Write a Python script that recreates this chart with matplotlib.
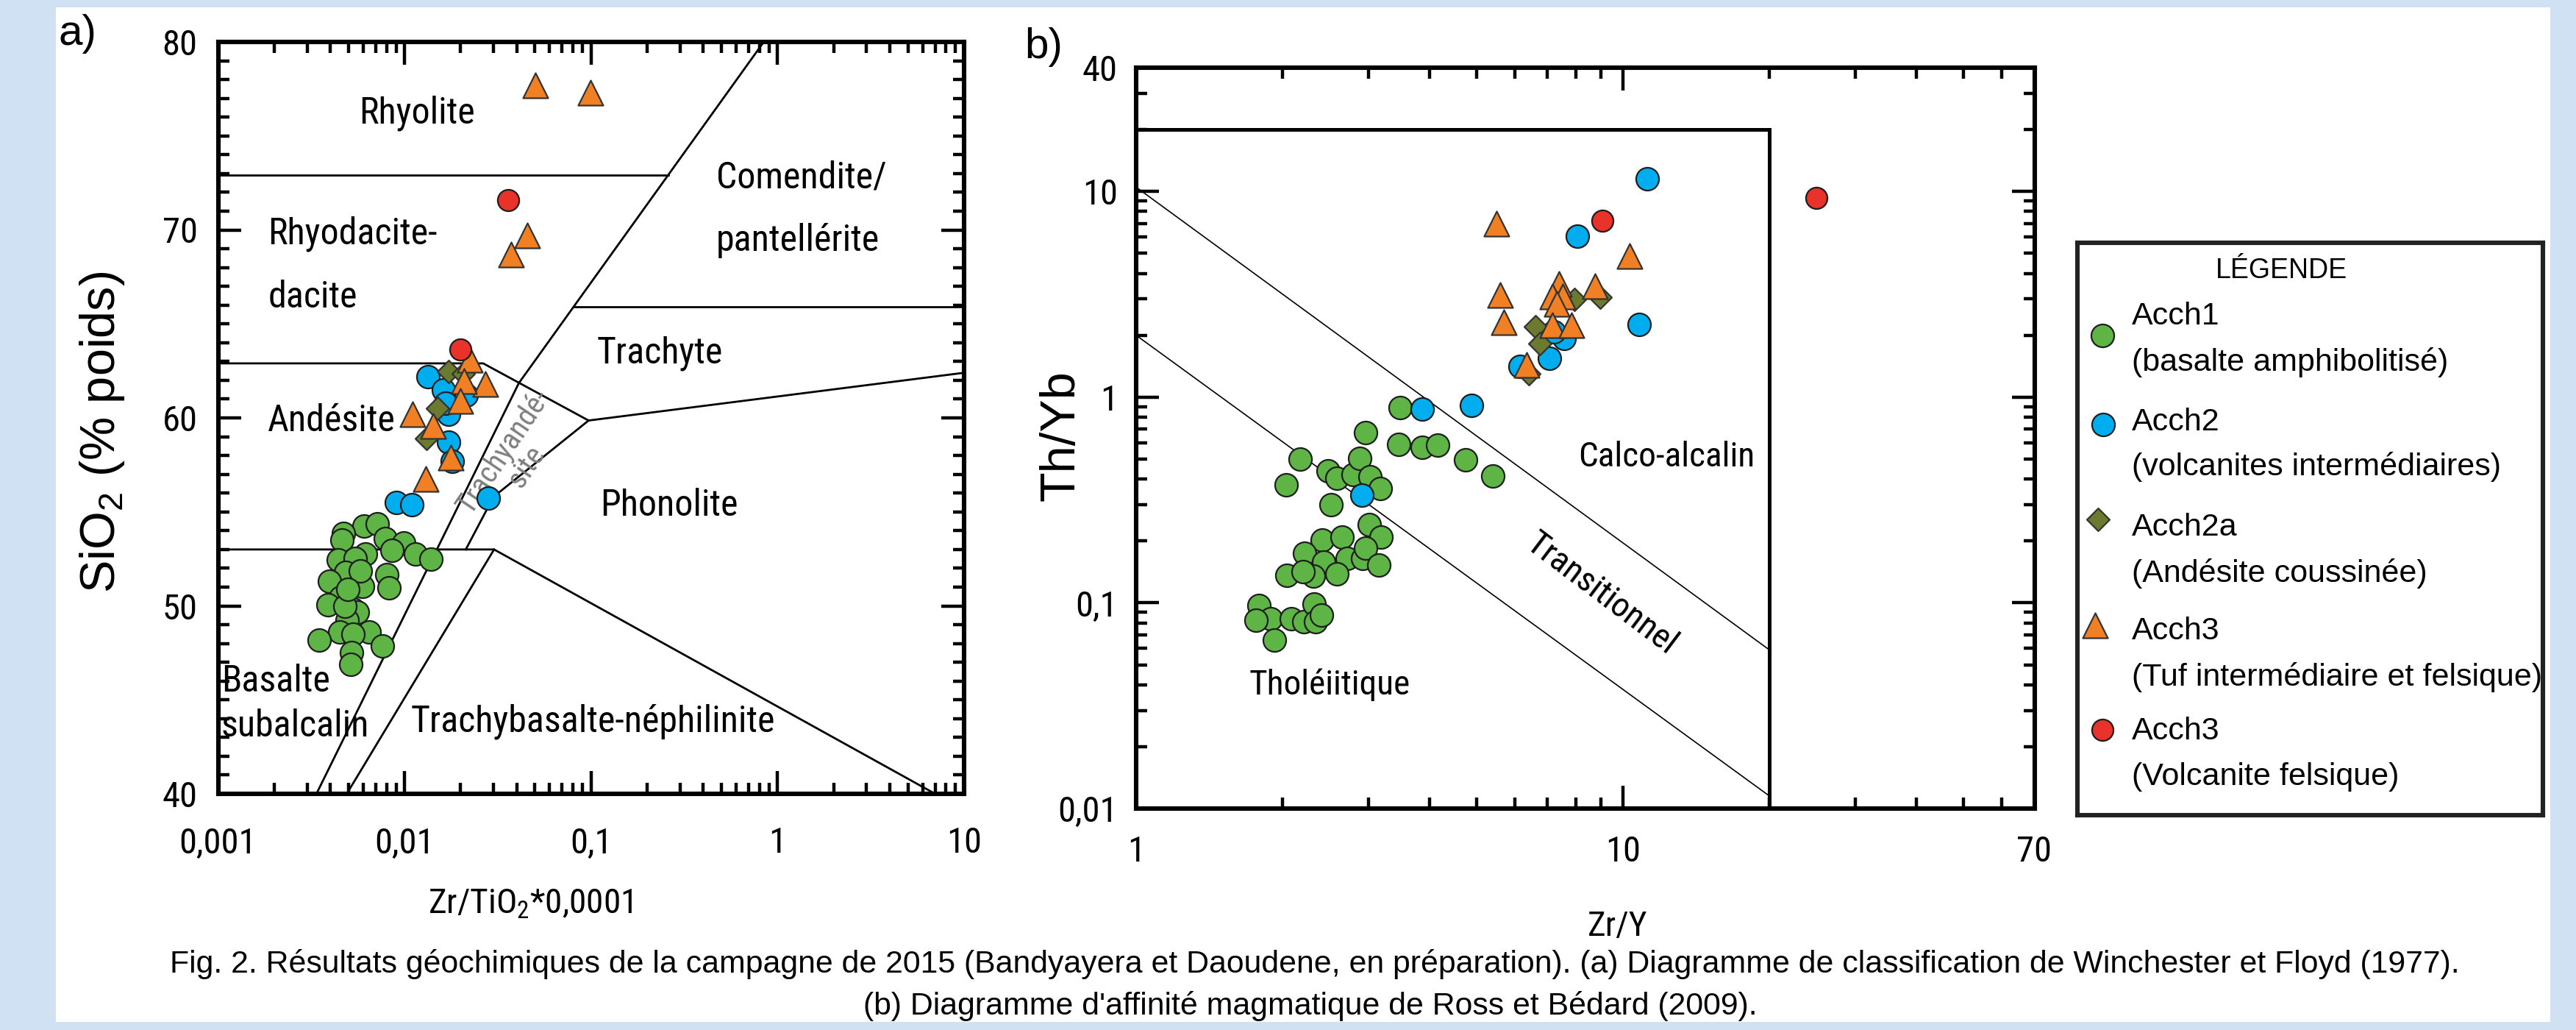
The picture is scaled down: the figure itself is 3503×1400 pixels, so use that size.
import numpy as np
import matplotlib.pyplot as plt
from matplotlib import font_manager
from matplotlib.font_manager import FontProperties
from matplotlib.patches import Rectangle
from matplotlib.ticker import LogLocator, MultipleLocator, NullFormatter


def pick_narrow():
    fonts = font_manager.fontManager.ttflist
    names = {f.name for f in fonts}
    for n in ['Liberation Sans Narrow', 'Roboto Condensed', 'Open Sans Condensed',
              'Noto Sans Condensed', 'DejaVu Sans Condensed']:
        if n in names:
            return n, 'normal', 1.0
    for f in fonts:
        if (f.name in ('Noto Sans', 'Open Sans', 'Roboto', 'DejaVu Sans')
                and f.stretch in ('condensed', 'semi-condensed')
                and f.style == 'normal' and f.weight == 400):
            return f.name, f.stretch, 1.0
    return 'Liberation Sans', 'normal', 0.82


NARROW, STRETCH, k = pick_narrow()


def nf(size):
    return FontProperties(family=NARROW, stretch=STRETCH, size=size * k)


plt.rcParams['font.family'] = ['Liberation Sans', 'DejaVu Sans']
plt.rcParams['mathtext.fontset'] = 'custom'
plt.rcParams['mathtext.rm'] = 'Liberation Sans'

# ---------- (a) Winchester et Floyd (1977) : Zr/TiO2*0,0001 vs SiO2 ----------
a_acch1_x = [0.00607, 0.00713, 0.00472, 0.00462, 0.00789, 0.00993, 0.00859, 0.01145,
             0.01386, 0.00620, 0.00441, 0.00546, 0.00483, 0.00802, 0.00828, 0.00397,
             0.00597, 0.00453, 0.00389, 0.00530, 0.00560, 0.00491, 0.00449, 0.00646,
             0.00347, 0.00530, 0.00762, 0.00521, 0.00514, 0.00480, 0.00580, 0.00497]
a_acch1_y = [54.25, 54.35, 53.87, 53.5, 53.57, 53.35, 52.97, 52.75,
             52.49, 52.75, 52.45, 52.52, 51.78, 51.66, 50.95, 51.33,
             51.03, 50.46, 50.05, 49.82, 49.68, 49.23, 48.6, 48.6,
             48.18, 48.48, 47.88, 47.5, 46.9, 49.98, 51.86, 50.88]
a_acch2_x = [0.01337, 0.0162, 0.0173, 0.0166, 0.0173, 0.0180, 0.0090, 0.01094, 0.0282, 0.0215]
a_acch2_y = [62.2, 61.5, 60.2, 60.8, 58.7, 57.7, 55.5, 55.4, 55.75, 61.2]
a_acch2a_x = [0.0173, 0.0206, 0.0150, 0.0131]
a_acch2a_y = [62.45, 62.35, 60.5, 58.9]
a_acch3t_x = [0.0502, 0.0989, 0.0457, 0.0373, 0.0225, 0.0272, 0.0208, 0.0200,
              0.01102, 0.01426, 0.01775, 0.01297]
a_acch3t_y = [77.7, 77.3, 69.7, 68.7, 63.1, 61.8, 61.95, 60.9, 60.2, 59.57, 57.9, 56.75]
a_acch3r_x = [0.0359, 0.01995]
a_acch3r_y = [71.6, 63.64]

# limites des champs
a_rhy_x, a_rhy_y = [0.001, 0.259], [72.9, 72.9]
a_main_x, a_main_y = [0.843, 0.041, 0.00337], [80, 61.85, 40]
a_com_x, a_com_y = [0.0807, 10], [65.9, 65.9]
a_and_x, a_and_y = [0.001, 0.0264, 0.097, 10], [62.9, 62.9, 59.86, 62.4]
a_tra_x, a_tra_y = [0.0213, 0.030, 0.097], [53, 55.8, 59.86]
a_bas_x, a_bas_y = [0.001, 0.0302, 7.0], [53, 53, 40]
a_alk_x, a_alk_y = [0.0302, 0.0049], [53, 40]

a_xticks = [0.001, 0.01, 0.1, 1, 10]
a_xticklabels = ['0,001', '0,01', '0,1', '1', '10']
a_yticks = [40, 50, 60, 70, 80]

# ---------- (b) Ross et Bédard (2009) : Zr/Y vs Th/Yb ----------
b_acch1_x = [2.96, 3.46, 3.87, 4.16, 4.75, 5.40, 2.17, 2.03, 2.48, 2.58, 2.79, 2.88, 3.02,
             3.17, 2.51, 3.01, 3.18, 2.41, 2.65, 2.22, 2.43, 2.71, 2.92, 2.96, 3.15, 2.04,
             2.31, 2.58, 2.20, 1.79, 1.89, 1.76, 2.08, 2.21, 2.32, 2.34, 2.40, 1.92, 3.49]
b_acch1_y = [0.673, 0.590, 0.570, 0.585, 0.496, 0.414, 0.500, 0.375, 0.438, 0.404, 0.421,
             0.505, 0.410, 0.360, 0.300, 0.240, 0.209, 0.202, 0.209, 0.174, 0.158, 0.164,
             0.164, 0.185, 0.153, 0.136, 0.135, 0.138, 0.142, 0.097, 0.0838, 0.0824,
             0.0838, 0.081, 0.0988, 0.081, 0.0873, 0.0659, 0.89]
b_acch2_x = [2.91, 3.87, 4.88, 11.2, 8.05, 10.8, 7.06, 6.15, 7.56, 7.2]
b_acch2_y = [0.334, 0.879, 0.91, 11.5, 6.07, 2.26, 1.55, 1.41, 1.93, 2.08]
b_acch2a_x = [7.95, 8.98, 6.61, 6.75, 6.40]
b_acch2a_y = [2.99, 3.05, 2.20, 1.83, 1.30]
b_acch3t_x = [10.3, 7.38, 8.75, 7.16, 7.51, 7.3, 7.16, 7.83, 6.34, 5.69, 5.60, 5.49]
b_acch3t_y = [4.86, 3.56, 3.47, 3.09, 3.09, 2.84, 2.24, 2.24, 1.44, 2.31, 3.13, 6.97]
b_acch3r_x = [9.07, 25.0]
b_acch3r_y = [7.21, 9.31]

b_up_x, b_up_y = [1, 20], [10.5, 0.059]
b_lo_x, b_lo_y = [1, 20], [2.0, 0.0115]
b_box_x, b_box_y = [1, 20, 20], [20, 20, 0.01]

b_xticks, b_xticklabels = [1, 10, 70], ['1', '10', '70']
b_yticks, b_yticklabels = [0.01, 0.1, 1, 10, 40], ['0,01', '0,1', '1', '10', '40']

legend_names = ['Acch1', 'Acch2', 'Acch2a', 'Acch3', 'Acch3']
legend_desc = ['(basalte amphibolitisé)', '(volcanites intermédiaires)',
               '(Andésite coussinée)', '(Tuf intermédiaire et felsique)',
               '(Volcanite felsique)']

styles = [
    dict(marker='o', s=125, c='#5fb446', edgecolors='#1e1e1e', linewidths=0.8),
    dict(marker='o', s=125, c='#00aeef', edgecolors='#1e1e1e', linewidths=0.8),
    dict(marker='D', s=62, c='#6b7a2e', edgecolors='#333333', linewidths=0.8),
    dict(marker='^', s=150, c='#f18024', edgecolors='#333333', linewidths=0.8),
    dict(marker='o', s=110, c='#e8322a', edgecolors='#1e1e1e', linewidths=0.8),
]

W, H = 3503, 1400
fig = plt.figure(figsize=(W / 200, H / 200), dpi=200)
fig.patch.set_facecolor('#cfe1f3')
fig.add_artist(Rectangle((76 / W, 1 - 1389 / H), (3468 - 76) / W, (1389 - 10) / H,
                         transform=fig.transFigure, facecolor='white', edgecolor='none', zorder=-1))


def rect(x0, y0, x1, y1):
    return [x0 / W, 1 - y1 / H, (x1 - x0) / W, (y1 - y0) / H]


ax_a = fig.add_axes(rect(296.5, 57, 1311, 1079))
ax_b = fig.add_axes(rect(1545, 92, 2766.5, 1099))

# ---- panel a
for bx, by in [(a_rhy_x, a_rhy_y), (a_main_x, a_main_y), (a_com_x, a_com_y), (a_and_x, a_and_y),
               (a_tra_x, a_tra_y), (a_bas_x, a_bas_y), (a_alk_x, a_alk_y)]:
    ax_a.plot(bx, by, color='black', lw=1.0, zorder=1)

groups_a = [(a_acch1_x, a_acch1_y), (a_acch2_x, a_acch2_y), (a_acch2a_x, a_acch2a_y),
            (a_acch3r_x, a_acch3r_y), (a_acch3t_x, a_acch3t_y)]
order = [0, 1, 2, 4, 3]
for (gx, gy), i in zip(groups_a, order):
    ax_a.scatter(gx, gy, zorder=3 + i, **styles[i])

ax_a.set_xscale('log')
ax_a.set_xlim(0.001, 10)
ax_a.set_ylim(40, 80)
ax_a.set_xticks(a_xticks, a_xticklabels)
ax_a.xaxis.set_minor_locator(LogLocator(base=10, subs=np.arange(2, 10), numticks=20))
ax_a.xaxis.set_minor_formatter(NullFormatter())
ax_a.set_yticks(a_yticks)
ax_a.yaxis.set_minor_locator(MultipleLocator(1))

fa = nf(18)
ax_a.text(0.01167, 76.2, 'Rhyolite', ha='center', va='center', fontproperties=fa)
ax_a.text(0.00185, 68.1, 'Rhyodacite-\ndacite', ha='left', va='center', linespacing=2.0, fontproperties=fa)
ax_a.text(0.00406, 59.84, 'Andésite', ha='center', va='center', fontproperties=fa)
ax_a.text(0.00104, 44.8, 'Basalte\nsubalcalin', ha='left', va='center', linespacing=1.35, fontproperties=fa)
ax_a.text(0.467, 71.1, 'Comendite/\npantellérite', ha='left', va='center', linespacing=2.0, fontproperties=fa)
ax_a.text(0.234, 63.44, 'Trachyte', ha='center', va='center', fontproperties=fa)
ax_a.text(0.263, 55.35, 'Phonolite', ha='center', va='center', fontproperties=fa)
ax_a.text(0.102, 43.85, 'Trachybasalte-néphilinite', ha='center', va='center', fontproperties=fa)
ax_a.text(0.0391, 57.8, 'Trachyandé-\nsite', ha='center', va='center', rotation=56,
          color='#808080', fontproperties=nf(13 / k if k < 1 else 14.5), linespacing=0.95)

ax_a.set_xlabel('Zr/TiO$_\\mathdefault{2}$*0,0001', fontproperties=nf(17))
ax_a.xaxis.set_label_coords(0.419, -0.125)
ax_a.set_ylabel('SiO$_\\mathdefault{2}$ (% poids)', fontsize=24, va='center')
ax_a.yaxis.set_label_coords(-0.155, 0.481)

# ---- panel b
ax_b.plot(b_up_x, b_up_y, color='black', lw=0.6, zorder=1)
ax_b.plot(b_lo_x, b_lo_y, color='black', lw=0.6, zorder=1)
ax_b.plot(b_box_x, b_box_y, color='black', lw=1.8, zorder=1, solid_joinstyle='miter')

groups_b = [(b_acch1_x, b_acch1_y), (b_acch2_x, b_acch2_y), (b_acch2a_x, b_acch2a_y),
            (b_acch3r_x, b_acch3r_y), (b_acch3t_x, b_acch3t_y)]
for (gx, gy), i in zip(groups_b, order):
    ax_b.scatter(gx, gy, zorder=3 + i, **styles[i])

ax_b.set_xscale('log')
ax_b.set_yscale('log')
ax_b.set_xlim(1, 70)
ax_b.set_ylim(0.01, 40)
ax_b.set_xticks(b_xticks, b_xticklabels)
ax_b.set_yticks(b_yticks, b_yticklabels)
ax_b.xaxis.set_minor_locator(LogLocator(base=10, subs=np.arange(2, 10), numticks=20))
ax_b.yaxis.set_minor_locator(LogLocator(base=10, subs=np.arange(2, 10), numticks=20))
ax_b.xaxis.set_minor_formatter(NullFormatter())
ax_b.yaxis.set_minor_formatter(NullFormatter())

fb = nf(17)
ax_b.text(12.3, 0.513, 'Calco-alcalin', ha='center', va='center', fontproperties=fb)
ax_b.text(2.50, 0.040, 'Tholéiitique', ha='center', va='center', fontproperties=fb)
ax_b.text(9.04, 0.111, 'Transitionnel', ha='center', va='center', rotation=-37, fontproperties=fb)

ax_b.set_xlabel('Zr/Y', fontproperties=nf(17))
ax_b.xaxis.set_label_coords(0.536, -0.137)
ax_b.set_ylabel('Th/Yb', fontsize=24, va='center')
ax_b.yaxis.set_label_coords(-0.0827, 0.503)

for ax, xpad, ypad in [(ax_a, 16, 10), (ax_b, 13, 9)]:
    ax.tick_params(which='both', direction='in', top=True, right=True, width=1.6)
    ax.tick_params(axis='x', which='both', pad=xpad)
    ax.tick_params(axis='y', which='both', pad=ypad)
    ax.tick_params(which='major', length=11)
    ax.tick_params(which='minor', length=5.5)
    for lab in ax.get_xticklabels() + ax.get_yticklabels():
        lab.set_fontproperties(nf(17.5))
    for sp in ax.spines.values():
        sp.set_linewidth(2.2)

fig.text(105 / W, 1 - 46 / H, 'a)', fontsize=21, ha='center', va='center')
fig.text(1419 / W, 1 - 64 / H, 'b)', fontsize=21, ha='center', va='center')

# ---- légende
ax_l = fig.add_axes(rect(2825, 330, 3458, 1108))
ax_l.set_xlim(2825, 3458)
ax_l.set_ylim(1108, 330)
ax_l.set_xticks([])
ax_l.set_yticks([])
for sp in ax_l.spines.values():
    sp.set_linewidth(2.2)
    sp.set_color('#222222')
ax_l.text(3102, 368, 'LÉGENDE', ha='center', va='center', fontsize=13.5)
key_x = [2859, 2860, 2853, 2849, 2859]
key_y = [455.6, 577.5, 706.5, 850.1, 992.1]
name_y = [430, 573.7, 717.3, 858.3, 993.8]
desc_y = [492.4, 634.4, 779.7, 920.6, 1056.1]
for i in range(5):
    ax_l.scatter([key_x[i]], [key_y[i]], **styles[i])
    ax_l.text(2899, name_y[i], legend_names[i], ha='left', va='center', fontsize=15.5)
    ax_l.text(2899, desc_y[i], legend_desc[i], ha='left', va='center', fontsize=15.5)

fig.text(1788 / W, 1 - 1322 / H,
         'Fig. 2. Résultats géochimiques de la campagne de 2015 (Bandyayera et Daoudene, en '
         'préparation). (a) Diagramme de classification de Winchester et Floyd (1977).',
         ha='center', va='baseline', fontsize=15.4)
fig.text(1782 / W, 1 - 1379 / H,
         "(b) Diagramme d'affinité magmatique de Ross et Bédard (2009).",
         ha='center', va='baseline', fontsize=15.4)

fig.savefig('out.png', dpi=200, facecolor=fig.get_facecolor())
